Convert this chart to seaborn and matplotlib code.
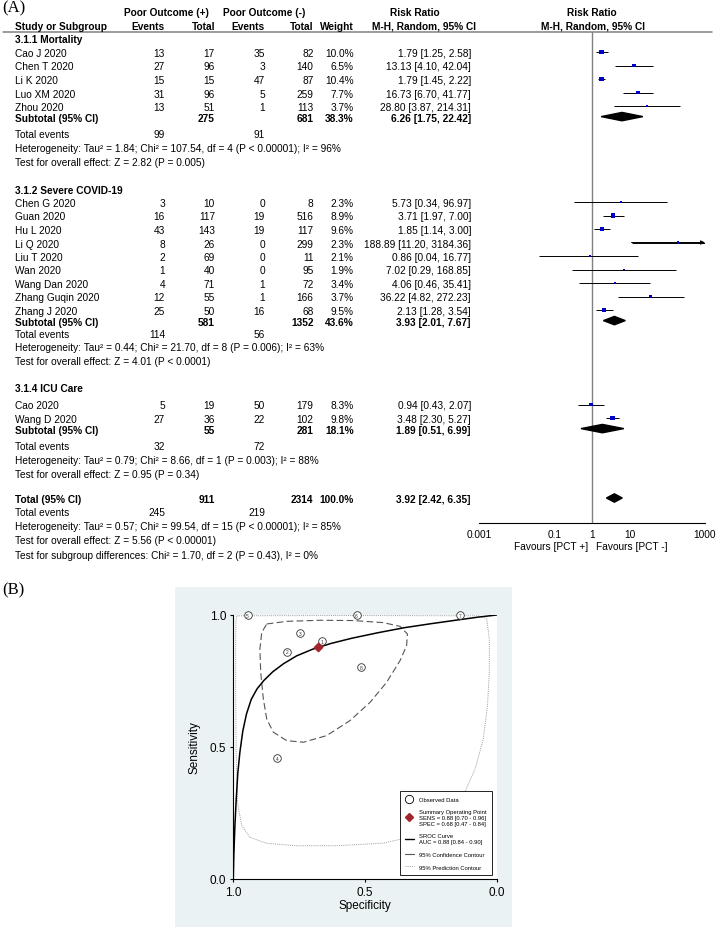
import numpy as np
import matplotlib
matplotlib.use("Agg")
import matplotlib.pyplot as plt
import seaborn as sns
from matplotlib.patches import Polygon, Rectangle
from matplotlib.lines import Line2D
from matplotlib.ticker import NullLocator

sns.set_style("white", {"text.color": "black", "xtick.color": "black", "ytick.color": "black",
                        "axes.edgecolor": "black", "axes.labelcolor": "black"})
plt.rcParams['font.family'] = ['Liberation Sans', 'DejaVu Sans']

# ---------------- (A) forest plot data ----------------
group_names = ["3.1.1 Mortality", "3.1.2 Severe COVID-19", "3.1.4 ICU Care"]

mort_study = ["Cao J 2020", "Chen T 2020", "Li K 2020", "Luo XM 2020", "Zhou 2020"]
mort_ev_pos = [13, 27, 15, 31, 13]
mort_tot_pos = [17, 96, 15, 96, 51]
mort_ev_neg = [35, 3, 47, 5, 1]
mort_tot_neg = [82, 140, 87, 259, 113]
mort_weight = [10.0, 6.5, 10.4, 7.7, 3.7]
mort_rr = [1.79, 13.13, 1.79, 16.73, 28.80]
mort_lo = [1.25, 4.10, 1.45, 6.70, 3.87]
mort_hi = [2.58, 42.04, 2.22, 41.77, 214.31]

sev_study = ["Chen G 2020", "Guan 2020", "Hu L 2020", "Li Q 2020", "Liu T 2020",
             "Wan 2020", "Wang Dan 2020", "Zhang Guqin 2020", "Zhang J 2020"]
sev_ev_pos = [3, 16, 43, 8, 2, 1, 4, 12, 25]
sev_tot_pos = [10, 117, 143, 26, 69, 40, 71, 55, 50]
sev_ev_neg = [0, 19, 19, 0, 0, 0, 1, 1, 16]
sev_tot_neg = [8, 516, 117, 299, 11, 95, 72, 166, 68]
sev_weight = [2.3, 8.9, 9.6, 2.3, 2.1, 1.9, 3.4, 3.7, 9.5]
sev_rr = [5.73, 3.71, 1.85, 188.89, 0.86, 7.02, 4.06, 36.22, 2.13]
sev_lo = [0.34, 1.97, 1.14, 11.20, 0.04, 0.29, 0.46, 4.82, 1.28]
sev_hi = [96.97, 7.00, 3.00, 3184.36, 16.77, 168.85, 35.41, 272.23, 3.54]

icu_study = ["Cao 2020", "Wang D 2020"]
icu_ev_pos = [5, 27]
icu_tot_pos = [19, 36]
icu_ev_neg = [50, 22]
icu_tot_neg = [179, 102]
icu_weight = [8.3, 9.8]
icu_rr = [0.94, 3.48]
icu_lo = [0.43, 2.30]
icu_hi = [2.07, 5.27]

sub_tot_pos = [275, 581, 55]
sub_tot_neg = [681, 1352, 281]
sub_weight = [38.3, 43.6, 18.1]
sub_rr = [6.26, 3.93, 1.89]
sub_lo = [1.75, 2.01, 0.51]
sub_hi = [22.42, 7.67, 6.99]
sub_events_pos = [99, 114, 32]
sub_events_neg = [91, 56, 72]
sub_het = ["Heterogeneity: Tau² = 1.84; Chi² = 107.54, df = 4 (P < 0.00001); I² = 96%",
           "Heterogeneity: Tau² = 0.44; Chi² = 21.70, df = 8 (P = 0.006); I² = 63%",
           "Heterogeneity: Tau² = 0.79; Chi² = 8.66, df = 1 (P = 0.003); I² = 88%"]
sub_test = ["Test for overall effect: Z = 2.82 (P = 0.005)",
            "Test for overall effect: Z = 4.01 (P < 0.0001)",
            "Test for overall effect: Z = 0.95 (P = 0.34)"]

total_pos, total_neg, total_weight = 911, 2314, 100.0
total_rr, total_lo, total_hi = 3.92, 2.42, 6.35
total_events_pos, total_events_neg = 245, 219
total_het = "Heterogeneity: Tau² = 0.57; Chi² = 99.54, df = 15 (P < 0.00001); I² = 85%"
total_test = "Test for overall effect: Z = 5.56 (P < 0.00001)"
total_subgroup = "Test for subgroup differences: Chi² = 1.70, df = 2 (P = 0.43), I² = 0%"

axis_ticks = [0.001, 0.1, 1, 10, 1000]
axis_labels = ["0.001", "0.1", "1", "10", "1000"]

# ---------------- (B) SROC data ----------------
obs_spec = [0.665, 0.797, 0.747, 0.833, 0.946, 0.532, 0.139, 0.515]
obs_sens = [0.900, 0.861, 0.931, 0.457, 1.000, 1.000, 1.000, 0.802]
obs_id = ["1", "2", "3", "4", "5", "6", "7", "8"]
summ_spec, summ_sens = 0.68, 0.88

sroc_spec = [1.0, 0.998, 0.994, 0.989, 0.983, 0.975, 0.964, 0.950, 0.932, 0.910, 0.884,
             0.850, 0.810, 0.760, 0.700, 0.630, 0.550, 0.450, 0.350, 0.250, 0.150, 0.070, 0.0]
sroc_sens = [0.0, 0.090, 0.200, 0.300, 0.400, 0.480, 0.560, 0.625, 0.680, 0.720, 0.752,
             0.785, 0.815, 0.845, 0.870, 0.892, 0.912, 0.933, 0.952, 0.967, 0.981, 0.992, 1.0]

conf_spec = [0.873, 0.797, 0.671, 0.544, 0.430, 0.367, 0.339, 0.342, 0.367, 0.418, 0.481,
             0.557, 0.646, 0.734, 0.797, 0.848, 0.873, 0.886, 0.896, 0.899, 0.892, 0.873]
conf_sens = [0.966, 0.976, 0.980, 0.979, 0.971, 0.957, 0.928, 0.884, 0.827, 0.745, 0.669,
             0.600, 0.543, 0.518, 0.524, 0.556, 0.606, 0.682, 0.783, 0.871, 0.934, 0.966]

pred_spec = [0.987, 0.600, 0.063, 0.038, 0.028, 0.028, 0.035, 0.051, 0.082, 0.127, 0.203,
             0.304, 0.430, 0.608, 0.759, 0.873, 0.937, 0.968, 0.984, 0.989, 0.991, 0.991,
             0.990, 0.987]
pred_sens = [0.997, 0.998, 0.997, 0.985, 0.909, 0.783, 0.657, 0.530, 0.417, 0.316, 0.227,
             0.164, 0.136, 0.126, 0.126, 0.135, 0.158, 0.202, 0.290, 0.467, 0.720, 0.909,
             0.979, 0.997]

legend_labels = ["Observed Data",
                 "Summary Operating Point\nSENS = 0.88 [0.70 - 0.96]\nSPEC = 0.68 [0.47 - 0.84]",
                 "SROC Curve\nAUC = 0.88 [0.84 - 0.90]",
                 "95% Confidence Contour",
                 "95% Prediction Contour"]

# ---------------- layout (pixel rows) ----------------
group_header_y = [39, 189.5, 388.5]
first_study_y = [53, 203, 405.5]
ROW = 13.5
total_events_y = [133.5, 334, 446]
het_y = [148, 347.5, 460]
test_y = [162, 361, 474]
overall_y = [499, 512.5, 526.5, 540.5, 555]

# ---------------- figure in pixel coordinates ----------------
W, H = 716, 928
fig = plt.figure(figsize=(W / 100, H / 100), dpi=100)


def fig_rect(x0, y0, x1, y1):
    return [x0 / W, 1 - y1 / H, (x1 - x0) / W, (y1 - y0) / H]


ax_t = fig.add_axes([0, 0, 1, 1])
ax_t.set_xlim(0, W)
ax_t.set_ylim(H, 0)
ax_t.axis("off")

FS = 7.25
AXIS_Y = 524
LINE_Y = 32.5
ax_f = fig.add_axes(fig_rect(479, LINE_Y, 705, AXIS_Y))
ax_f.set_xscale("log")
ax_f.set_xlim(0.001, 1000)
ax_f.set_ylim(AXIS_Y, LINE_Y)
ax_f.patch.set_visible(False)
for s in ["top", "right", "left"]:
    ax_f.spines[s].set_visible(False)
ax_f.spines["bottom"].set_linewidth(0.8)
ax_f.set_xticks(axis_ticks)
ax_f.set_xticklabels(axis_labels)
ax_f.xaxis.set_minor_locator(NullLocator())
ax_f.set_yticks([])
ax_f.tick_params(axis="x", direction="inout", length=6, width=0.8, labelsize=FS, pad=1)
ax_f.axvline(1, color="#808080", lw=1, zorder=1)

# columns (right edges)
X_NAME, X_EVP, X_TOTP, X_EVN, X_TOTN, X_W, X_RR = 15, 165, 215, 265, 313.5, 353.5, 471


def txt(x, y, s, ha="right", bold=False, size=FS):
    ax_t.text(x, y, s, ha=ha, va="center_baseline", fontsize=size,
              fontweight="bold" if bold else "normal")


# headers
ax_t.text(2, 8, "(A)", fontsize=12, family="Liberation Serif", va="center")
txt(166, 12.5, "Poor Outcome (+)", ha="center", bold=True)
txt(264, 12.5, "Poor Outcome (-)", ha="center", bold=True)
txt(415, 12.5, "Risk Ratio", ha="center", bold=True)
txt(592, 12.5, "Risk Ratio", ha="center", bold=True)
txt(X_NAME, 25.5, "Study or Subgroup", ha="left", bold=True)
for x, s in [(X_EVP, "Events"), (X_TOTP, "Total"), (X_EVN, "Events"), (X_TOTN, "Total"), (X_W, "Weight")]:
    txt(x, 25.5, s, bold=True)
txt(423.5, 25.5, "M-H, Random, 95% CI", ha="center", bold=True)
txt(593, 25.5, "M-H, Random, 95% CI", ha="center", bold=True)
ax_t.plot([3, 712], [LINE_Y, LINE_Y], color="#808080", lw=1.1)

groups = [
    (mort_study, mort_ev_pos, mort_tot_pos, mort_ev_neg, mort_tot_neg, mort_weight, mort_rr, mort_lo, mort_hi),
    (sev_study, sev_ev_pos, sev_tot_pos, sev_ev_neg, sev_tot_neg, sev_weight, sev_rr, sev_lo, sev_hi),
    (icu_study, icu_ev_pos, icu_tot_pos, icu_ev_neg, icu_tot_neg, icu_weight, icu_rr, icu_lo, icu_hi),
]

DH = 4.2  # diamond half-height


def diamond(rr, lo, hi, y):
    ax_f.add_patch(Polygon([(lo, y), (rr, y - DH), (hi, y), (rr, y + DH)],
                           closed=True, color="black", zorder=4))


for g, (study, evp, totp, evn, totn, wt, rr, lo, hi) in enumerate(groups):
    txt(X_NAME, group_header_y[g], group_names[g], ha="left", bold=True)
    ys = [first_study_y[g] + ROW * i for i in range(len(study))]
    for i, y in enumerate(ys):
        txt(X_NAME, y, study[i], ha="left")
        txt(X_EVP, y, str(evp[i]))
        txt(X_TOTP, y, str(totp[i]))
        txt(X_EVN, y, str(evn[i]))
        txt(X_TOTN, y, str(totn[i]))
        txt(X_W, y, f"{wt[i]:.1f}%")
        txt(X_RR, y, f"{rr[i]:.2f} [{lo[i]:.2f}, {hi[i]:.2f}]")
    # confidence intervals
    hi_c = np.minimum(hi, 1000)
    ax_f.hlines(ys, lo, hi_c, color="black", lw=0.7, zorder=2)
    for yy, l, h in zip(ys, lo, hi):
        if h > 1000:
            ax_f.annotate("", xy=(1000, yy), xytext=(l, yy),
                          arrowprops=dict(arrowstyle="-|>", color="black", lw=0.7,
                                          mutation_scale=6, shrinkA=0, shrinkB=0))
    sns.scatterplot(x=rr, y=ys, size=wt, sizes=(0, 12 * 0.95), size_norm=(0, 12),
                    marker="s", color="#0000CC", linewidth=0, legend=False, ax=ax_f, zorder=3)
    y = ys[-1] + 10.6
    txt(X_NAME, y, "Subtotal (95% CI)", ha="left", bold=True)
    txt(X_TOTP, y, str(sub_tot_pos[g]), bold=True)
    txt(X_TOTN, y, str(sub_tot_neg[g]), bold=True)
    txt(X_W, y, f"{sub_weight[g]:.1f}%", bold=True)
    txt(X_RR, y, f"{sub_rr[g]:.2f} [{sub_lo[g]:.2f}, {sub_hi[g]:.2f}]", bold=True)
    diamond(sub_rr[g], sub_lo[g], sub_hi[g], y)
    txt(X_NAME, total_events_y[g], "Total events", ha="left")
    txt(X_EVP, total_events_y[g], str(sub_events_pos[g]))
    txt(X_EVN, total_events_y[g], str(sub_events_neg[g]))
    txt(X_NAME, het_y[g], sub_het[g], ha="left")
    txt(X_NAME, test_y[g], sub_test[g], ha="left")

y = overall_y[0]
txt(X_NAME, y, "Total (95% CI)", ha="left", bold=True)
txt(X_TOTP, y, str(total_pos), bold=True)
txt(X_TOTN, y, str(total_neg), bold=True)
txt(X_W, y, f"{total_weight:.1f}%", bold=True)
txt(X_RR, y, f"{total_rr:.2f} [{total_lo:.2f}, {total_hi:.2f}]", bold=True)
diamond(total_rr, total_lo, total_hi, y)
txt(X_NAME, overall_y[1], "Total events", ha="left")
txt(X_EVP, overall_y[1], str(total_events_pos))
txt(X_EVN, overall_y[1], str(total_events_neg))
txt(X_NAME, overall_y[2], total_het, ha="left")
txt(X_NAME, overall_y[3], total_test, ha="left")
txt(X_NAME, overall_y[4], total_subgroup, ha="left")

txt(588, 546, "Favours [PCT +]", ha="right")
txt(596.5, 546, "Favours [PCT -]", ha="left")

# ---------------- (B) SROC ----------------
ax_t.text(2, 590, "(B)", fontsize=12, family="Liberation Serif", va="center")
ax_t.add_patch(Rectangle((175, 588), 337, 340, facecolor="#EAF2F3", edgecolor="none"))

ax_s = fig.add_axes(fig_rect(233.3, 616, 496.7, 880))
ax_s.set_facecolor("white")
ax_s.set_xlim(1, 0)
ax_s.set_ylim(0, 1)
for s in ["top", "right"]:
    ax_s.spines[s].set_visible(False)
for s in ["left", "bottom"]:
    ax_s.spines[s].set_linewidth(0.8)
ax_s.set_xticks([1, 0.5, 0])
ax_s.set_xticklabels(["1.0", "0.5", "0.0"])
ax_s.set_yticks([0, 0.5, 1])
ax_s.set_yticklabels(["0.0", "0.5", "1.0"])
ax_s.tick_params(direction="out", length=2.5, width=0.8, labelsize=8.5, pad=2.5, bottom=True, left=True)
ax_s.set_xlabel("Specificity", fontsize=8.5, labelpad=1)
ax_s.set_ylabel("Sensitivity", fontsize=8.5, labelpad=6.5)

CONF_C = "#555555"
PRED_C = "#999999"
ax_s.plot(pred_spec, pred_sens, ls=(0, (1, 1.2)), color=PRED_C, lw=0.7)
ax_s.plot(conf_spec, conf_sens, ls=(0, (6, 3)), color=CONF_C, lw=0.8)
sns.lineplot(x=sroc_spec, y=sroc_sens, color="black", lw=1.1, estimator=None, sort=False, ax=ax_s)
sns.scatterplot(x=obs_spec, y=obs_sens, s=30, color="white", edgecolor="#333333", linewidth=0.6,
                clip_on=False, zorder=4, ax=ax_s)
for sx, sy, lab in zip(obs_spec, obs_sens, obs_id):
    ax_s.text(sx, sy, lab, fontsize=3.5, ha="center", va="center", zorder=5, color="#333333")
ax_s.scatter([summ_spec], [summ_sens], marker="D", s=18, color="#A3242A", zorder=6)

handles = [Line2D([], [], marker="o", ls="none", mfc="white", mec="black", ms=6, mew=0.6),
           Line2D([], [], marker="D", ls="none", color="#A3242A", ms=4),
           Line2D([], [], color="black", lw=1),
           Line2D([], [], color=CONF_C, lw=0.8),
           Line2D([], [], color=PRED_C, lw=0.7, ls=(0, (1, 1.2)))]
leg = ax_s.legend(handles, legend_labels, loc="lower right", bbox_to_anchor=(0.983, 0.016),
                  borderaxespad=0, fontsize=4.2, frameon=True, fancybox=False, edgecolor="black",
                  framealpha=1, handlelength=1.4, handletextpad=1.0, labelspacing=1.3, borderpad=0.9)
leg.get_frame().set_linewidth(0.6)

fig.savefig("out.png", dpi=100)
